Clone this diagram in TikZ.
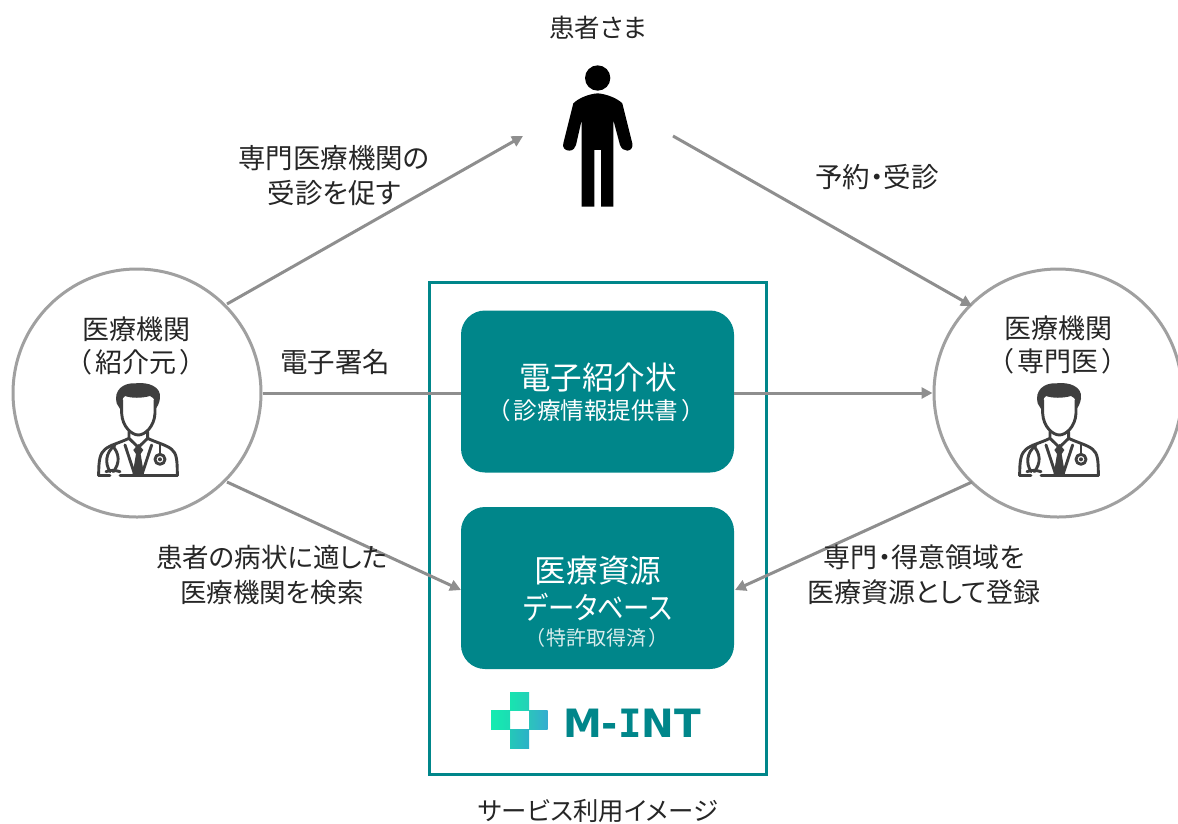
\documentclass[tikz,border=0pt]{standalone}
\usepackage{fontspec}
\setmainfont[RawFeature={+palt}]{Noto Sans CJK JP}
\newfontfamily\logofont[Scale=1]{DejaVu Sans}
\newfontfamily\logomono{DejaVu Sans Mono}
\definecolor{teal1}{HTML}{00868A}
\definecolor{arrowgray}{HTML}{8E8E8E}
\definecolor{ringgray}{HTML}{A0A0A0}
\definecolor{txt}{HTML}{262626}
\definecolor{icon}{HTML}{3F3F3F}
\newcommand{\fsz}[2]{\fontsize{#1}{#2}\selectfont}
\newcommand{\pgap}{\hspace{4pt}}
\usetikzlibrary{arrows.meta}
\tikzset{
  ring/.style={circle,draw=ringgray,line width=3pt,minimum size=248pt,inner sep=0pt},
  frame/.style={rectangle,draw=teal1,line width=3pt,minimum width=337pt,minimum height=492pt,inner sep=0pt},
  tbox/.style={rectangle,fill=teal1,rounded corners=24pt,minimum width=273pt,minimum height=162pt,inner sep=0pt,text=white},
  flow/.style={draw=arrowgray,line width=3pt,-{Triangle[length=11pt,width=11pt]}},
  plain/.style={draw=arrowgray,line width=3pt},
  lab/.style={text=txt,align=center,inner sep=0pt},
  sq/.style={draw=none},
  ink/.style={draw=icon,line width=2.9pt,line cap=round,line join=round,fill=none},
}
\newcommand{\doctor}[2]{%
\begin{scope}[shift={(#1,#2)},x=0.3333pt,y=-0.3333pt]
  \fill[icon] (170,100) .. controls (160,60) and (190,38) .. (225,40) .. controls (265,35) and (305,50) .. (300,85) .. controls (298,100) and (292,110) .. (288,115) .. controls (288,95) and (285,85) .. (270,78) .. controls (245,85) and (215,85) .. (195,78) .. controls (185,85) and (183,100) .. (182,120) -- cycle;
  \draw[ink] (185,90) -- (185,130) .. controls (187,170) and (215,195) .. (235,195) .. controls (255,195) and (283,170) .. (285,130) -- (285,90);
  \draw[ink] (207,185) -- (207,205) .. controls (180,218) and (150,225) .. (135,238) .. controls (120,250) and (116,270) .. (116,316);
  \draw[ink] (263,185) -- (263,205) .. controls (290,218) and (320,225) .. (335,238) .. controls (350,250) and (352,270) .. (352,316);
  \draw[ink] (116,316) -- (150,316);
  \draw[ink] (180,316) -- (352,316);
  \draw[ink] (195,225) -- (225,316);
  \draw[ink] (275,225) -- (245,316);
  \draw[ink] (207,205) -- (235,232) -- (263,205);
  \fill[icon] (235,222) -- (250,240) -- (242,252) -- (252,312) -- (218,312) -- (228,252) -- (220,240) -- cycle;
  \draw[ink] (165,225) .. controls (135,250) and (135,280) .. (150,305);
  \draw[ink] (155,225) .. controls (180,250) and (180,280) .. (160,305);
  \draw[ink] (138,305) .. controls (150,300) and (165,300) .. (180,305);
  \draw[ink] (300,225) -- (300,250);
  \draw[ink] (300,268) circle (15);
  \fill[icon] (300,268) circle (6);
\end{scope}}
\begin{document}
\begin{tikzpicture}[x=1pt,y=-1pt]
\useasboundingbox (0,0) rectangle (1178,823);
\fill[white] (0,0) rectangle (1178,823);
% circles
\node[ring] (refer) at (137,393) {};
\node[ring] (spec) at (1058,393) {};
\node[frame] (frame) at (598,528.5) {};
\node[tbox] (letter) at (597.5,391.5) {};
\node[tbox] (db) at (597.5,588) {};
% free ends
\coordinate (pl) at (523,136);
\coordinate (pr) at (673,136);
\coordinate (rt) at (972,306);
\coordinate (lt) at (227,304);
\coordinate (lb) at (227,482);
\coordinate (rb) at (972,482);
\coordinate (dbl) at (461,590);
\coordinate (dbr) at (735,590);
% connectors
\draw[flow] (lt) -- (pl);
\draw[flow] (pr) -- (rt);
\draw[plain] (refer.east) -- (letter.west |- refer.east);
\draw[flow] (letter.east |- spec.west) -- (spec.west);
\draw[flow] (lb) -- (dbl);
\draw[flow] (rb) -- (dbr);
% labels
\node[lab,font=\fsz{25.5}{30}] (patient) at (598,28) {患者さま};
\node[lab,font=\fsz{27.5}{35}] (l1) at (334,176) {専門医療機関の\\受診を促す};
\node[lab,font=\fsz{27.5}{35}] (l2) at (877,177) {予約・受診};
\node[lab,font=\fsz{27}{33}] (l3) at (136,346) {医療機関\\（\pgap 紹介元\pgap ）};
\node[lab,font=\fsz{27}{33}] (l4) at (1058,345) {医療機関\\（\pgap 専門医\pgap ）};
\node[lab,font=\fsz{27.5}{30}] (l5) at (335,362) {電子署名};
\node[lab,font=\fsz{26.5}{35}] (l6) at (272,575) {患者の病状に適した\\医療機関を検索};
\node[lab,font=\fsz{27}{35}] (l7) at (924,575) {専門・得意領域を\\医療資源として登録};
\node[lab,font=\fsz{25.4}{28}] (cap) at (598,811) {サービス利用イメージ};
\node[lab,text=white,font=\fsz{31.6}{36}] (t1) at (598,378) {電子紹介状};
\node[lab,text=white,font=\fsz{23.5}{26}] (t2) at (596,411) {（\pgap 診療情報提供書\pgap ）};
\node[lab,text=white,font=\fsz{31.6}{36}] (t3) at (598,571) {医療資源};
\node[lab,text=white,font=\fsz{31}{36}] (t4) at (598,607) {\scalebox{0.85}[1]{データベース}};
\node[lab,text=white!85!teal1,font=\fsz{20}{22}] (t5) at (597,638) {（\hspace{2pt}特許取得済\hspace{2pt}）};
% person
\begin{scope}[shift={(540,50)},x=0.3333pt,y=-0.3333pt]
  \fill[black] (173,84) circle (38);
  \fill[black] (173,130) .. controls (145,132) and (115,145) .. (100,160) -- (70,280) .. controls (66,292) and (75,302) .. (88,302) .. controls (100,302) and (106,292) .. (108,285) -- (125,210) -- (125,470) -- (163,470) -- (163,300) -- (183,300) -- (183,470) -- (220,470) -- (220,210) -- (240,285) .. controls (244,296) and (252,302) .. (262,302) .. controls (272,302) and (280,292) .. (277,280) -- (247,160) .. controls (232,145) and (200,132) .. (173,130) -- cycle;
\end{scope}
% doctors
\doctor{60}{370}
\doctor{981}{370}
% logo
\begin{scope}[shift={(480,680)},x=0.3333pt,y=-0.3333pt]
  \shade[sq,left color={rgb,255:red,24;green,228;blue,176},right color={rgb,255:red,36;green,208;blue,184}] (90,37) rectangle (147,92);
  \shade[sq,left color={rgb,255:red,20;green,236;blue,176},right color={rgb,255:red,28;green,220;blue,180}] (33,92) rectangle (90,148);
  \shade[sq,left color={rgb,255:red,44;green,196;blue,188},right color={rgb,255:red,52;green,172;blue,208}] (147,92) rectangle (203,148);
  \shade[sq,left color={rgb,255:red,36;green,200;blue,184},right color={rgb,255:red,44;green,176;blue,200}] (90,148) rectangle (147,205);
\end{scope}
\node[lab,text=teal1,font=\fsz{39}{44}\bfseries] (logo) at (632,723) {\logofont M-{\logomono I}NT};
\end{tikzpicture}
\end{document}
